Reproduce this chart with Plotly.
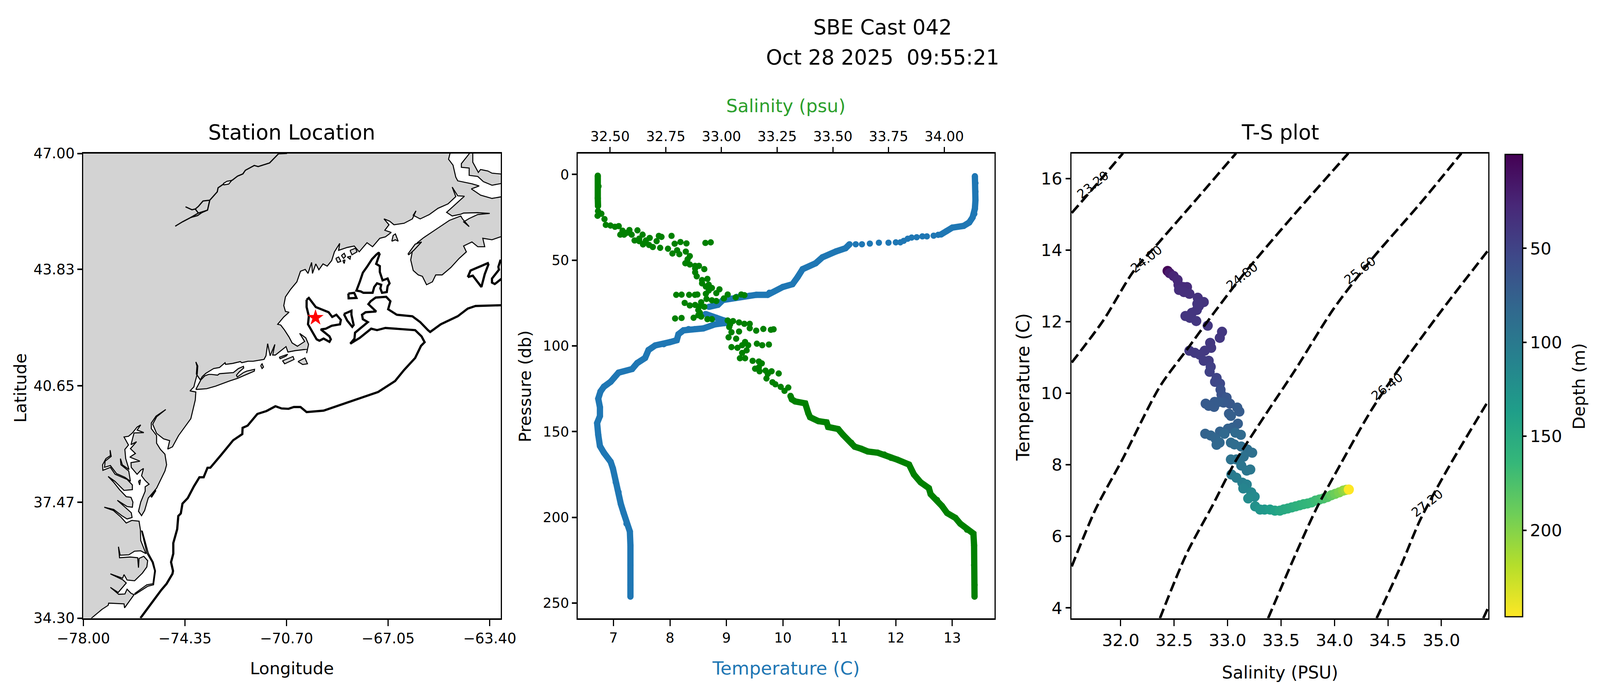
import plotly.graph_objects as go
from plotly.colors import sequential

# ---------- station map (lon, lat) ----------
land_coast = [
 (-77.71,34.2),(-77.71,34.30),(-77.33,34.54),(-77.11,34.65),(-77.09,34.71),(-76.54,34.69),(-76.52,34.58),(-76.18,34.94),
 (-76.29,34.98),(-76.43,35.09),(-76.51,34.96),(-76.73,34.95),(-77.03,35.14),(-76.75,35.00),(-76.46,35.26),(-76.59,35.35),
 (-77.03,35.51),(-76.59,35.39),(-76.54,35.49),(-76.43,35.34),(-76.16,35.32),(-75.88,35.53),(-75.72,35.70),(-75.69,35.87),
 (-75.83,35.99),(-76.00,35.93),(-76.02,35.68),(-76.05,35.95),(-76.32,35.97),(-76.70,35.95),(-76.74,36.25),(-76.68,36.02),
 (-76.37,36.03),(-76.16,36.13),(-75.94,36.14),(-75.75,36.06),(-75.94,36.42),(-75.95,36.71),(-76.00,36.95),(-76.26,36.97),
 (-76.46,36.90),(-76.65,37.06),(-76.92,37.24),(-77.25,37.33),(-76.91,37.27),(-76.62,37.10),(-76.43,37.01),(-76.25,37.05),
 (-76.28,37.18),(-76.40,37.26),(-76.78,37.52),(-76.43,37.35),(-76.24,37.33),(-76.22,37.47),(-76.29,37.60),(-76.46,37.62),
 (-76.70,37.81),(-76.92,38.02),(-77.11,38.17),(-76.87,38.04),(-76.54,37.79),(-76.24,37.81),(-76.24,37.94),(-76.43,38.09),
 (-76.86,38.23),(-77.03,38.42),(-77.30,38.34),(-77.31,38.49),(-77.19,38.66),(-77.03,38.74),(-77.04,38.89),(-77.00,38.72),
 (-77.22,38.59),(-77.24,38.42),(-77.03,38.47),(-76.81,38.25),(-76.51,38.15),(-76.31,38.04),(-76.37,38.32),(-76.65,38.49),
 (-76.67,38.66),(-76.60,38.49),(-76.36,38.36),(-76.48,38.66),(-76.51,38.91),(-76.38,39.03),(-76.54,39.25),(-76.38,39.27),
 (-76.24,39.36),(-76.07,39.52),(-75.94,39.58),(-76.07,39.44),(-75.83,39.37),(-76.18,39.36),(-76.29,39.04),(-76.09,39.12),
 (-76.31,38.93),(-76.13,38.80),(-76.33,38.70),(-75.97,38.59),(-76.29,38.55),(-76.28,38.42),(-76.07,38.23),(-75.94,38.34),
 (-75.84,38.39),(-75.91,38.19),(-75.78,38.06),(-75.64,37.96),(-75.78,37.89),(-75.78,37.77),(-75.94,37.47),(-76.02,37.22),
 (-75.91,37.10),(-75.80,37.24),(-75.67,37.58),(-75.37,37.85),(-75.07,38.32),(-75.01,38.49),(-75.07,38.78),(-75.23,38.91),
 (-75.37,39.08),(-75.37,39.29),(-75.56,39.48),(-75.56,39.63),(-75.39,39.82),(-75.04,40.00),(-75.37,39.80),(-75.51,39.60),
 (-75.37,39.35),(-75.12,39.20),(-74.90,39.15),(-74.97,38.92),(-74.80,38.98),(-74.58,39.29),(-74.14,39.75),(-73.98,40.26),
 (-73.96,40.48),(-74.17,40.51),(-74.03,40.62),(-73.995,40.73),(-73.91,40.97),(-73.89,41.19),(-73.96,41.30),(-73.92,41.19),
 (-73.94,40.97),(-73.80,40.81),(-73.73,40.90),(-73.60,40.99),(-73.32,41.12),(-73.11,41.15),(-72.91,41.28),(-72.89,41.235),
 (-72.64,41.26),(-72.36,41.31),(-72.31,41.28),(-72.08,41.32),(-71.90,41.32),(-71.51,41.37),(-71.44,41.47),(-71.38,41.80),
 (-71.29,41.47),(-71.12,41.78),(-71.20,41.49),(-71.10,41.49),(-70.72,41.72),(-70.65,41.57),(-70.39,41.61),(-69.95,41.65),
 (-69.98,41.54),(-69.91,41.78),(-70.01,41.96),(-70.23,42.08),(-70.05,41.86),(-70.31,41.73),(-70.50,41.82),(-70.61,41.98),
 (-70.77,42.17),(-70.91,42.31),(-71.02,42.33),(-70.80,42.53),(-70.61,42.66),(-70.74,42.68),(-70.80,42.84),(-70.74,43.08),
 (-70.55,43.29),(-70.33,43.49),(-70.20,43.78),(-70.03,43.83),(-69.93,43.72),(-69.80,44.02),(-69.77,43.72),(-69.65,43.98),
 (-69.54,43.82),(-69.39,43.98),(-69.24,43.92),(-69.08,44.07),(-68.98,44.31),(-68.79,44.54),(-68.83,44.35),(-68.52,44.43),
 (-68.27,44.47),(-68.09,44.31),(-67.81,44.56),(-67.61,44.45),(-67.35,44.68),(-67.15,44.72),(-66.94,44.84),(-67.17,44.90),
 (-67.02,45.05),(-67.20,45.21),(-67.00,45.15),(-66.84,45.05),(-66.48,45.09),(-66.18,45.21),(-66.05,45.43),(-66.15,45.31),
 (-65.90,45.21),(-65.57,45.33),(-65.26,45.50),(-64.90,45.62),(-64.62,45.82),(-64.75,46.08),(-64.55,45.84),(-64.31,45.83),
 (-64.50,45.70),(-64.95,45.39),(-64.75,45.29),(-64.44,45.34),(-64.34,45.37),(-63.83,45.38),(-63.40,45.36),(-63.83,45.33),
 (-64.14,45.22),(-64.34,45.13),(-64.14,45.00),(-64.38,45.21),(-64.44,45.29),(-64.85,45.17),(-65.26,44.96),(-65.77,44.70),
 (-66.00,44.56),(-66.18,44.33),(-66.24,44.09),(-66.15,43.80),(-65.97,43.68),(-65.82,43.64),(-65.67,43.41),(-65.46,43.49),
 (-65.34,43.68),(-65.11,43.68),(-64.80,43.88),(-64.50,44.13),(-64.24,44.31),(-64.34,44.47),(-64.04,44.58),(-63.83,44.45),
 (-63.58,44.45),(-63.65,44.68),(-63.32,44.64),(-63.02,44.72),(-62.9,44.72),(-62.9,45.81),(-63.02,45.81),(-63.32,45.77),
 (-63.73,45.86),(-64.06,46.03),(-63.78,46.11),(-64.04,46.17),(-64.55,46.25),(-64.62,46.35),(-64.72,46.68),(-64.88,46.84),
 (-64.83,46.99),(-64.80,47.1),(-78.1,47.1),(-78.1,34.2),(-77.71,34.2),
]
islands = [
 # Outer Banks
 (-76.16,34.97),(-75.72,35.21),(-75.50,35.24),(-75.44,35.59),(-75.53,35.83),(-75.72,36.08),(-75.91,36.69),(-75.88,36.67),
 (-75.67,36.08),(-75.49,35.83),(-75.41,35.59),(-75.48,35.21),(-75.69,35.17),(-76.14,34.95),(-76.16,34.97),None,
 # Long Island
 (-73.96,40.55),(-73.78,40.81),(-73.64,40.92),(-73.50,40.96),(-73.39,40.96),(-73.18,40.94),(-73.11,40.98),(-72.61,41.01),
 (-72.43,41.12),(-72.25,41.18),(-72.24,41.135),(-72.40,41.03),(-72.50,40.94),(-72.47,40.89),(-72.25,41.01),(-72.13,41.05),
 (-71.85,41.10),(-71.86,41.05),(-72.47,40.85),(-72.75,40.78),(-73.25,40.64),(-73.57,40.57),(-73.92,40.55),(-73.96,40.55),None,
 # Block Island, Elizabeth Islands, Martha's Vineyard, Nantucket
 (-71.63,41.20),(-71.58,41.25),(-71.53,41.16),(-71.58,41.12),(-71.63,41.20),None,
 (-70.96,41.43),(-70.66,41.51),(-70.72,41.46),(-70.93,41.39),(-70.96,41.43),None,
 (-70.85,41.33),(-70.47,41.45),(-70.43,41.37),(-70.77,41.25),(-70.82,41.31),(-70.85,41.33),None,
 (-70.29,41.31),(-70.04,41.41),(-69.95,41.25),(-70.12,41.23),(-70.29,41.31),None,
 # Maine and Fundy islands
 (-66.92,44.60),(-66.87,44.76),(-66.79,44.80),(-66.69,44.60),(-66.79,44.64),(-66.92,44.60),None,
 (-68.93,44.13),(-68.83,44.17),(-68.75,44.05),(-68.86,44.02),(-68.93,44.13),None,
 (-68.73,44.21),(-68.63,44.27),(-68.58,44.19),(-68.65,44.13),(-68.73,44.21),None,
 (-68.68,44.07),(-68.60,44.09),(-68.63,43.99),(-68.68,44.07),None,
 (-68.52,44.17),(-68.40,44.19),(-68.42,44.11),(-68.52,44.17),None,
 (-68.42,44.35),(-68.22,44.41),(-68.17,44.31),(-68.35,44.23),(-68.42,44.35),None,
 (-66.34,44.25),(-66.08,44.52),(-65.85,44.58),(-66.13,44.35),(-66.31,44.23),(-66.34,44.25),None,
 # Prince Edward Island
 (-64.14,47.1),(-64.14,46.99),(-64.42,46.72),(-64.42,46.62),(-64.14,46.60),(-64.14,46.40),(-63.83,46.37),(-63.63,46.23),
 (-63.32,46.13),(-62.9,46.19),(-62.9,46.43),(-63.32,46.46),(-63.47,46.52),(-63.73,46.56),(-63.81,46.48),(-64.01,46.76),
 (-64.01,47.1),(-64.14,47.1),None,
 # Delmarva barrier and Tangier
 (-75.55,37.60),(-75.40,37.78),(-75.42,37.80),(-75.57,37.62),(-75.55,37.60),None,
 (-76.02,38.04),(-75.95,38.08),(-75.98,37.94),(-76.02,38.04),None,
]
river_lines = [
 (-74.70,45.01),(-74.44,45.13),(-74.14,45.25),(-73.87,45.37),(-73.54,45.45),(-73.46,45.72),(-73.19,45.95),(-73.16,46.06),
 (-72.95,46.17),(-72.65,46.27),(-72.46,46.38),(-72.27,46.44),(-72.18,46.54),(-71.86,46.67),(-71.72,46.64),(-71.31,46.74),
 (-70.99,46.99),(-70.85,47.1),None,
 (-74.33,45.54),(-74.10,45.46),(-73.98,45.48),(-73.87,45.37),None,
 (-73.46,45.72),(-73.70,45.70),(-73.87,45.55),(-73.98,45.48),None,
 (-74.14,45.25),(-73.90,45.30),(-73.75,45.38),(-73.54,45.45),None,
 (-70.99,46.99),(-70.70,47.0),(-70.60,47.1),None,
]
lake = [(-72.97,46.18),(-72.84,46.24),(-72.67,46.26),(-72.78,46.16),(-72.95,46.14),(-72.97,46.18)]
isobaths = [
 # shelf break and Georges Bank
 (-75.95,34.30),(-75.58,34.69),(-75.20,35.07),(-75.01,35.24),(-74.80,35.51),(-74.78,35.59),(-74.85,35.83),(-74.77,36.06),
 (-74.77,36.35),(-74.63,36.73),(-74.59,37.09),(-74.50,37.16),(-74.44,37.43),(-74.25,37.58),(-74.03,37.90),(-73.83,38.15),
 (-73.68,38.15),(-73.54,38.41),(-73.44,38.41),(-73.05,38.76),(-72.62,39.16),(-72.29,39.33),(-72.28,39.50),(-72.10,39.56),
 (-71.75,39.88),(-71.42,39.96),(-71.10,40.09),(-70.88,40.03),(-70.63,40.02),(-70.44,40.07),(-70.20,40.07),(-69.98,39.93),
 (-69.37,39.97),(-67.41,40.48),(-66.80,40.78),(-66.48,41.08),(-66.08,41.41),(-65.87,41.74),(-65.74,41.84),(-65.85,42.00),
 (-66.08,42.17),(-67.15,42.23),(-67.45,42.17),(-67.66,42.21),(-67.86,42.08),(-68.07,41.96),(-68.24,41.88),(-68.41,41.80),
 (-68.26,41.94),(-68.24,42.10),(-67.78,42.39),(-67.96,42.47),(-67.99,42.59),(-67.86,42.66),(-67.48,42.68),(-67.76,42.88),
 (-67.68,42.96),(-67.50,43.06),(-67.12,43.08),(-66.97,42.96),(-67.05,42.74),(-66.74,42.59),(-66.18,42.55),(-65.90,42.39),
 (-65.62,42.17),(-65.54,42.12),(-65.16,42.33),(-64.55,42.55),(-64.19,42.76),(-63.91,42.83),(-63.02,42.85),(-62.9,42.85),None,
 # Wilkinson Basin
 (-69.98,43.00),(-69.90,43.05),(-69.65,42.80),(-69.19,42.66),(-69.06,42.53),(-68.91,42.59),(-68.75,42.45),(-68.78,42.33),
 (-69.08,42.29),(-69.29,42.21),(-69.47,42.19),(-69.16,42.00),(-69.11,41.92),(-69.16,41.85),(-69.37,41.94),(-69.52,41.88),
 (-69.62,41.92),(-69.93,42.33),(-69.90,42.55),(-69.98,42.80),(-69.98,43.00),None,
 # Jordan Basin
 (-67.35,44.27),(-67.48,43.98),(-67.35,43.92),(-67.35,43.76),(-67.25,43.53),(-67.07,43.58),(-67.00,43.45),(-67.07,43.37),
 (-67.10,43.21),(-67.27,43.19),(-67.33,43.31),(-67.30,43.41),(-67.45,43.45),(-67.55,43.35),(-67.61,43.19),(-67.94,43.19),
 (-68.04,43.23),(-68.19,43.25),(-68.07,43.49),(-67.96,43.74),(-67.81,43.90),(-67.63,44.11),(-67.48,44.23),(-67.40,44.28),(-67.35,44.27),None,
 # small basins
 (-68.48,43.17),(-68.27,43.19),(-68.19,43.05),(-68.47,43.04),(-68.48,43.17),None,
 (-68.64,42.61),(-68.37,42.70),(-68.37,42.59),(-68.29,42.31),(-68.34,42.26),(-68.52,42.43),(-68.64,42.61),None,
 (-64.19,43.62),(-64.09,43.80),(-63.47,44.00),(-63.45,43.96),(-63.58,43.70),(-63.70,43.35),(-64.01,43.66),(-64.19,43.62),None,
 (-62.9,44.07),(-63.02,44.07),(-63.09,43.90),(-63.07,43.82),(-63.32,43.58),(-63.32,43.47),(-63.22,43.43),(-63.02,43.55),(-62.9,43.62),None,
]
station_lon = [-69.66]
station_lat = [42.51]
lon_ticks = [-78.00,-74.35,-70.70,-67.05,-63.40]
lat_ticks = [34.30,37.47,40.65,43.83,47.00]

# ---------- profiles (value, pressure) ----------
temp_runs = [
 (13.40,1),(13.41,5),(13.41,10),(13.41,15),(13.40,20),(13.39,23),(13.36,25),(13.30,28),(13.20,30),(13.00,31),(12.90,33),(12.80,35),None,
 (11.18,40.7),(11.11,43),(10.94,44.9),(10.70,48.3),(10.58,51.8),(10.35,55.2),(10.26,59.9),(10.17,64),(10.00,65.6),(9.76,69),
 (9.73,70.2),(9.53,70.2),(9.41,70.7),(9.18,71.4),(8.94,73.2),(8.85,76),(8.69,77.2),None,
 (8.63,81.4),(8.82,83.6),(8.96,85.2),(8.96,86.7),(8.80,87.4),(8.59,89.8),(8.44,90.2),(8.33,90.2),(8.24,90.9),(8.15,93.2),(8.12,96.7),
 (8.00,97.8),(7.89,99),(7.74,99.7),(7.62,102.4),(7.56,107),(7.42,110),(7.33,113.5),(7.09,115.6),(7.01,118.6),(6.95,120.9),
 (6.83,123.8),(6.77,126.6),(6.73,130.8),(6.76,135.8),(6.76,140.9),(6.71,145),(6.73,151.9),(6.76,158.4),(6.83,162.3),(6.95,167.6),
 (6.99,171.5),(7.04,179.6),(7.09,185.3),(7.13,192.2),(7.18,197.5),(7.23,203.7),(7.29,208.3),(7.30,216.4),(7.30,227.9),(7.30,239.4),(7.30,246.3),
]
temp_dots = [
 (12.75,35.2),(12.67,35.7),(12.55,36.1),(12.47,36.1),(12.37,36.6),(12.28,36.8),(12.21,37.5),(12.14,38.7),(12.08,39.6),(12.00,39.6),
 (11.87,39.8),(11.70,39.8),(11.54,40.3),(11.40,40.7),(11.29,40.7),
]
sal_runs = [
 (32.445,0.7),(32.448,6.9),(32.445,13.8),(32.446,18.4),None,
 (33.31,129.2),(33.316,131.2),(33.331,132.4),(33.376,133.5),(33.390,139.3),(33.398,141.6),(33.435,143.9),(33.472,144.6),(33.479,147.3),
 (33.524,148.5),(33.546,151.9),(33.583,156.5),(33.598,158.8),(33.627,160.0),(33.657,161.6),(33.701,162.3),(33.731,163.4),(33.761,165.3),
 (33.790,166.4),(33.842,169.2),(33.864,175.0),(33.894,179.6),(33.931,183.0),(33.939,186.5),(33.968,189.9),(33.990,193.4),(34.013,197.5),
 (34.050,200.3),(34.072,203.7),(34.102,207.2),(34.131,209.5),(34.134,216.4),(34.134,227.9),(34.136,239.4),(34.136,246.3),
]
sal_dots = [
 (32.446,18.4),(32.446,21.4),(32.444,24.1),(32.461,22.9),(32.475,26.0),(32.481,29.4),(32.502,29.8),(32.522,30.5),(32.539,30.1),(32.556,32.8),
 (32.546,35.1),(32.563,35.1),(32.576,34.0),(32.587,32.4),(32.597,35.1),(32.623,32.6),(32.610,38.5),(32.631,38.9),(32.631,37.4),(32.646,35.1),
 (32.648,40.8),(32.658,39.6),(32.661,38.5),(32.678,37.0),(32.692,42.3),(32.675,41.1),(32.709,38.9),(32.719,35.8),(32.731,36.4),(32.725,42.8),
 (32.760,43.3),(32.776,35.8),(32.790,40.4),(32.816,39.4),(32.843,40.2),(32.928,39.9),(32.952,39.6),(32.780,46.1),(32.801,44.2),(32.811,46.5),
 (32.840,45.0),(32.858,47.6),(32.848,49.5),(32.838,51.8),(32.858,52.5),(32.882,53.3),(32.899,53.3),(32.923,55.2),(32.882,54.8),(32.882,57.1),
 (32.889,59.4),(32.913,61.6),(32.937,60.9),(32.913,63.5),(32.943,64.3),(32.930,65.4),(32.957,66.2),(32.943,67.7),(32.991,67.0),(32.977,69.2),
 (32.930,69.6),(32.797,70.2),(32.821,70.1),(32.855,70.2),(32.881,70.2),(32.892,70.0),(32.933,72.6),(32.957,73.4),(32.977,73.8),(33.011,72.3),
 (33.028,70.0),(33.064,71.7),(33.089,70.0),(33.103,70.4),(32.835,74.9),(32.858,76.4),(32.882,76.1),(32.909,74.5),(32.923,77.2),(32.903,76.8),
 (32.896,79.1),(32.903,80.6),(32.896,82.1),(32.875,83.6),(32.909,82.9),(32.937,84.4),(32.957,84.4),(32.792,84.0),(32.821,83.7),(33.028,85.2),
 (33.052,85.5),(33.079,86.3),(33.103,87.1),(33.127,87.1),(33.039,87.4),(33.035,89.0),(33.045,92.0),(33.079,91.6),(33.127,89.7),(33.156,91.1),
 (33.188,90.1),(33.222,90.6),(33.234,90.3),(33.032,95.0),(33.066,95.8),(33.106,97.7),(33.120,99.6),(33.093,99.6),(33.159,98.7),(33.183,99.6),
 (33.213,99.2),(33.045,100.7),(33.072,101.1),(33.113,102.6),(33.093,104.1),(33.083,107.2),(33.106,107.2),(33.140,108.7),(33.168,109.1),
 (33.181,110.2),(33.168,112.5),(33.151,113.3),(33.171,114.8),(33.198,114.4),(33.225,114.8),(33.208,116.3),(33.257,116.1),(33.202,119.0),
 (33.229,121.2),(33.242,122.4),(33.266,123.9),(33.300,124.3),(33.283,126.2),(33.310,129.2),
]

# ---------- T-S samples (salinity, temperature, depth) ----------
ts_samples = [
 (32.439,13.42,2),(32.458,13.36,18),(32.495,13.28,26),(32.532,13.17,28),(32.541,13.03,29),(32.587,12.97,30),(32.62,12.97,31),(32.546,12.89,32),
 (32.592,12.83,33),(32.643,12.78,34),(32.721,12.67,36),(32.777,12.55,37),(32.731,12.44,37.5),(32.717,12.50,37.8),(32.712,12.33,38),(32.666,12.25,38.5),
 (32.606,12.16,39),(32.647,12.11,39.3),(32.707,12.02,39.6),(32.814,11.89,39.7),(32.948,11.72,39.8),(32.927,11.55,40),(32.837,11.41,40.3),(32.846,11.27,40.7),
 (32.786,11.19,41),(32.643,11.19,41.1),(32.694,11.13,41.5),(32.74,11.08,42),(32.777,10.91,43),(32.823,10.91,44),(32.842,10.74,46),(32.832,10.60,48),
 (32.897,10.43,51),(32.883,10.32,53),(32.929,10.27,55),(32.934,10.10,60),(32.943,9.96,63),(32.99,9.88,66),(33.022,9.71,68),(32.962,9.74,69),
 (32.879,9.76,69.5),(32.795,9.71,70),(32.874,9.62,70.2),(32.823,9.65,70.4),(32.916,9.76,70.6),(33.091,9.60,71),(33.11,9.49,71.5),(33.013,9.43,72),
 (33.031,9.37,73),(33.096,9.15,74),(33.045,9.04,76),(33.003,9.01,76.5),(32.929,8.93,77),(32.791,8.87,78),(32.842,8.82,79),(32.888,8.73,80),
 (32.897,8.56,82),(32.925,8.62,82.5),(32.971,8.87,83),(33.073,8.90,84),(33.124,8.84,85),(33.031,8.62,86),(33.064,8.57,87),(33.128,8.51,88),
 (33.184,8.43,89),(33.23,8.34,90),(33.151,8.23,91),(33.031,8.15,93),(33.082,8.15,94),(33.128,7.98,96),(33.179,7.84,97),(33.212,7.87,98),
 (33.036,7.73,100),(33.082,7.64,103),(33.138,7.50,106),(33.179,7.45,108),(33.147,7.34,111),(33.221,7.23,114),(33.253,7.11,117),(33.193,7.06,119),
 (33.258,6.84,124),(33.304,6.75,128),(33.346,6.75,131),(33.397,6.75,136),(33.443,6.72,141),(33.489,6.72,145),(33.526,6.755,148),(33.563,6.78,150),
 (33.60,6.81,152),(33.637,6.84,155),(33.674,6.87,157),(33.711,6.90,160),(33.748,6.92,162),(33.785,6.95,164),(33.822,7.00,167),(33.859,7.03,170),
 (33.896,7.06,173),(33.933,7.10,178),(33.97,7.15,184),(34.007,7.19,190),(34.044,7.23,196),(34.081,7.28,203),(34.109,7.30,208),(34.134,7.31,246),
]
density_curves = {
 "23.20": [(31.542,15.04),(31.803,15.94),(32.021,16.71)],
 "24.00": [(31.542,10.86),(31.838,12.04),(32.12,13.41),(32.367,14.25),(32.719,15.46),(33.079,16.71)],
 "24.80": [(31.542,5.16),(31.767,6.77),(32.014,8.14),(32.367,10.19),(32.614,11.20),(32.86,12.2),(33.142,13.30),(33.636,15.04),(34.13,16.71)],
 "25.60": [(32.367,3.71),(32.614,5.50),(32.86,6.87),(33.072,8.09),(33.354,9.40),(33.636,10.67),(33.989,12.35),(34.341,13.72),(34.80,15.30),(35.187,16.71)],
 "26.40": [(33.379,3.71),(33.636,5.50),(33.83,6.77),(34.059,8.03),(34.341,9.51),(34.623,10.77),(35.011,12.35),(35.441,14.01)],
 "27.20": [(34.394,3.71),(34.623,5.19),(34.80,6.45),(35.046,7.82),(35.441,9.80)],
 "28.00": [(35.392,3.71),(35.441,4.03)],
}
density_labels = {"23.20":(31.739,15.83),"24.00":(32.24,13.75),"24.80":(33.135,13.27),"25.60":(34.239,13.43),"26.40":(34.493,10.19),"27.20":(34.87,6.93)}
depth_ticks = [50,100,150,200]

FONT = "DejaVu Sans"
REF_W, H = 5392, 1791      # reference picture
W = 4096                   # the browser window is only this wide, so the page is fitted to it
SX = W / REF_W
FS = 0.8                   # text scale
MS = 0.87                  # mark scale
TOP, BOTTOM = 392.5, 1581.5

def unzip(pairs):
    a, b = [], []
    for p in pairs:
        a.append(None if p is None else p[0])
        b.append(None if p is None else p[1])
    return a, b

def dom_x(l, r): return [l / REF_W, r / REF_W]
def dom_y(t, b): return [(H - b) / H, (H - t) / H]

fig = go.Figure()
COAST = 3 * MS
lon, lat = unzip(land_coast)
fig.add_trace(go.Scatter(x=lon, y=lat, mode="lines", fill="toself", fillcolor="#d3d3d3", line=dict(color="black", width=COAST), xaxis="x", yaxis="y", name="Land"))
lon, lat = unzip(islands)
fig.add_trace(go.Scatter(x=lon, y=lat, mode="lines", fill="toself", fillcolor="#d3d3d3", line=dict(color="black", width=COAST), xaxis="x", yaxis="y", name="Islands"))
lon, lat = unzip(river_lines)
fig.add_trace(go.Scatter(x=lon, y=lat, mode="lines", line=dict(color="black", width=3.5 * MS), xaxis="x", yaxis="y", name="Rivers"))
lon, lat = unzip(lake)
fig.add_trace(go.Scatter(x=lon, y=lat, mode="lines", fill="toself", fillcolor="white", line=dict(color="black", width=COAST), xaxis="x", yaxis="y", name="Lake"))
lon, lat = unzip(isobaths)
fig.add_trace(go.Scatter(x=lon, y=lat, mode="lines", line=dict(color="black", width=6.5 * MS), xaxis="x", yaxis="y", name="Isobath"))
fig.add_trace(go.Scatter(x=station_lon, y=station_lat, mode="markers", marker=dict(symbol="star", size=36 * MS, color="red", line=dict(width=0)), xaxis="x", yaxis="y", name="Station"))

BLUE, GREEN = "#1f77b4", "green"
D = 18.5 * MS
t, p = unzip(temp_runs)
fig.add_trace(go.Scatter(x=t, y=p, mode="lines+markers", line=dict(color=BLUE, width=D), marker=dict(color=BLUE, size=D, line=dict(width=0)), xaxis="x2", yaxis="y2", name="Temperature"))
t, p = unzip(temp_dots)
fig.add_trace(go.Scatter(x=t, y=p, mode="markers", marker=dict(color=BLUE, size=D, line=dict(width=0)), xaxis="x2", yaxis="y2", name="Temperature"))
s, p = unzip(sal_runs)
fig.add_trace(go.Scatter(x=s, y=p, mode="lines+markers", line=dict(color=GREEN, width=D), marker=dict(color=GREEN, size=D, line=dict(width=0)), xaxis="x4", yaxis="y2", name="Salinity"))
s, p = unzip(sal_dots)
fig.add_trace(go.Scatter(x=s, y=p, mode="markers", marker=dict(color=GREEN, size=D, line=dict(width=0)), xaxis="x4", yaxis="y2", name="Salinity"))

ts_s = [r[0] for r in ts_samples]
ts_t = [r[1] for r in ts_samples]
ts_d = [-r[2] for r in ts_samples]
fig.add_trace(go.Scatter(
    x=ts_s, y=ts_t, mode="markers", xaxis="x3", yaxis="y3", name="T-S",
    marker=dict(size=28 * 0.93, color=ts_d, cmin=-246, cmax=0, colorscale=sequential.Viridis, reversescale=True, line=dict(width=0),
        colorbar=dict(x=5072/REF_W, xanchor="left", xpad=0, ypad=0, thicknessmode="pixels", thickness=59 * SX, lenmode="fraction",
            len=(1578-395)/H, y=(H-1578)/H, yanchor="bottom", outlinecolor="black", outlinewidth=3,
            ticks="outside", ticklen=9, tickwidth=4, tickcolor="black",
            tickvals=[-d for d in depth_ticks], ticktext=[str(d) for d in depth_ticks],
            tickfont=dict(size=54 * FS, family=FONT, color="black")))))
for name, pts in density_curves.items():
    a, b = unzip(pts)
    fig.add_trace(go.Scatter(x=a, y=b, mode="lines", line=dict(color="black", width=6.5, dash="26px,11px", shape="spline", smoothing=0.8), xaxis="x3", yaxis="y3", name=name))

base = dict(showline=True, linecolor="black", mirror=True, ticks="outside", tickcolor="black", showgrid=False, zeroline=False, automargin=False)
xaxis_style = dict(base, linewidth=4, ticklen=16, tickwidth=3)
yaxis_style = dict(base, linewidth=3, ticklen=12, tickwidth=4)

fig.update_layout(
    template="none", width=W, height=H, autosize=False, margin=dict(l=0, r=0, t=0, b=0, pad=0), showlegend=False,
    paper_bgcolor="white", plot_bgcolor="white", font=dict(family=FONT, color="black"),
    xaxis=dict(xaxis_style, domain=dom_x(281, 1688), range=[-78, -63], tickvals=lon_ticks, tickformat=".2f", tickfont=dict(size=46*FS), anchor="y"),
    yaxis=dict(yaxis_style, domain=dom_y(TOP, BOTTOM), range=[34.3, 47], tickvals=lat_ticks, tickformat=".2f", tickfont=dict(size=46*FS), anchor="x"),
    xaxis2=dict(xaxis_style, domain=dom_x(1947, 3351), range=[6.367, 13.745], dtick=1, tickfont=dict(size=44*FS), anchor="y2"),
    yaxis2=dict(yaxis_style, domain=dom_y(TOP, BOTTOM), range=[258.8, -12.3], tickvals=[0,50,100,150,200,250], tickfont=dict(size=44*FS), anchor="x2"),
    xaxis4=dict(xaxis_style, mirror=False, showline=False, overlaying="x2", side="top", range=[32.355, 34.225], tickvals=[32.5,32.75,33,33.25,33.5,33.75,34], tickformat=".2f", tickfont=dict(size=44*FS), anchor="y2"),
    xaxis3=dict(xaxis_style, domain=dom_x(3611, 5016), range=[31.54, 35.44], tickvals=[32,32.5,33,33.5,34,34.5,35], tickformat=".1f", tickfont=dict(size=54*FS), anchor="y3"),
    yaxis3=dict(yaxis_style, domain=dom_y(TOP, BOTTOM), range=[3.715, 16.706], tickvals=[4,6,8,10,12,14,16], tickfont=dict(size=54*FS), anchor="x3"),
)

texts = [
    ("SBE Cast 042", 2975, 69, 66, "black", 0),
    ("Oct 28 2025 \u00a009:55:21", 2975, 146, 66, "black", 0),
    ("Station Location", 984, 338, 66, "black", 0),
    ("T-S plot", 4315, 338, 66, "black", 0),
    ("Longitude", 984, 1710, 54, "black", 0),
    ("Latitude", 69, 992, 54, "black", -90),
    ("Temperature (C)", 2649, 1710, 58, BLUE, 0),
    ("Salinity (psu)", 2649, 271, 58, "#2ca02c", 0),
    ("Pressure (db)", 1769, 988, 54, "black", -90),
    ("Salinity (PSU)", 4314, 1720, 55, "black", 0),
    ("Temperature (C)", 3448, 990, 58, "black", -90),
    ("Depth (m)", 5321, 989, 54, "black", -90),
]
for text, px, py, size, color, angle in texts:
    fig.add_annotation(text=text, xref="paper", yref="paper", x=px/REF_W, y=(H-py)/H, xanchor="center", yanchor="middle",
                       showarrow=False, textangle=angle, font=dict(size=size*FS, family=FONT, color=color))
for name, (sx, ty) in density_labels.items():
    fig.add_annotation(text=name, xref="x3", yref="y3", x=sx, y=ty, showarrow=False, textangle=-38,
                       font=dict(size=40*FS, family=FONT, color="black"))

fig.write_html("out.html", config=dict(displayModeBar=False), post_script="document.body.style.margin='0';document.body.style.overflow='hidden';")
